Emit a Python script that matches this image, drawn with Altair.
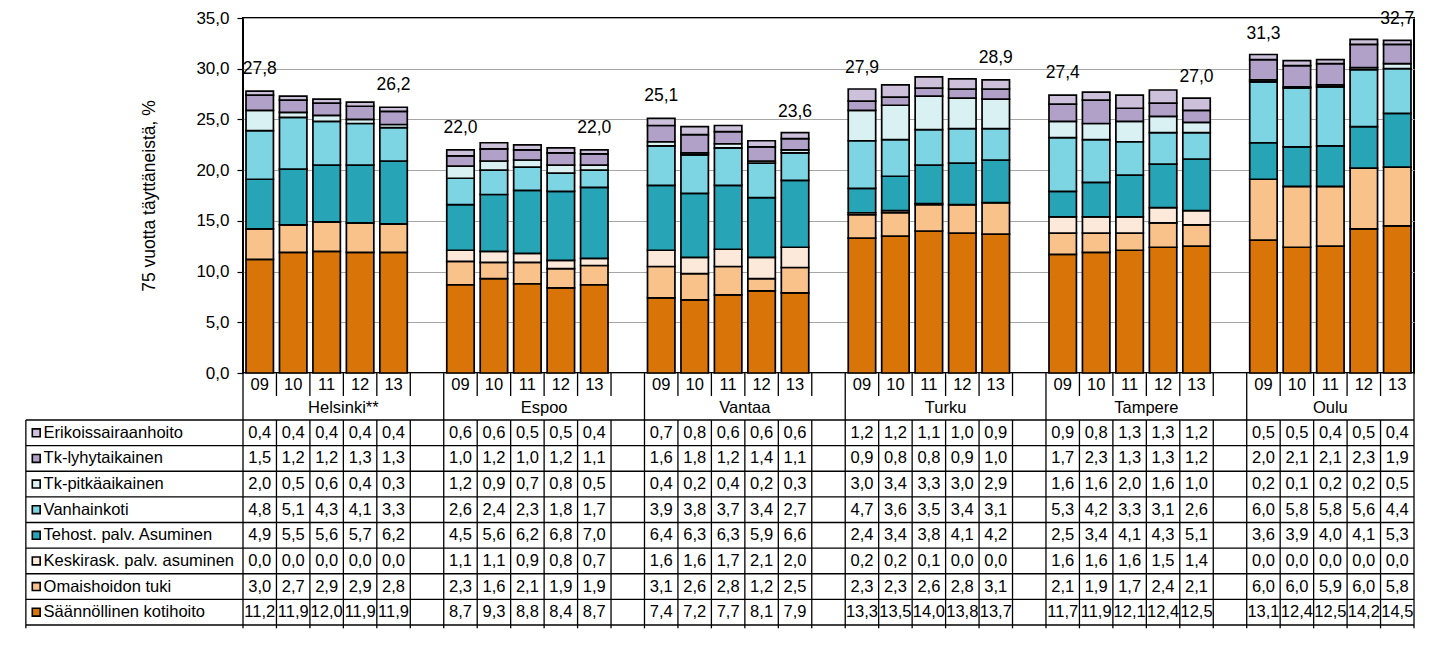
import altair as alt
import pandas as pd

# ---------------- data ----------------
cities = ["Helsinki**", "Espoo", "Vantaa", "Turku", "Tampere", "Oulu"]
years = ["09", "10", "11", "12", "13"]
categories = [
    "Erikoissairaanhoito",
    "Tk-lyhytaikainen",
    "Tk-pitkäaikainen",
    "Vanhainkoti",
    "Tehost. palv. Asuminen",
    "Keskirask. palv. asuminen",
    "Omaishoidon tuki",
    "Säännöllinen kotihoito",
]
colors = ["#CCC0DA", "#B1A0C7", "#DAF1F3", "#7DD5E3", "#27A5B6", "#FDE9D9", "#F9C28B", "#D97409"]

# values: city-major, 5 years per city
erikoissairaanhoito = [0.4, 0.4, 0.4, 0.4, 0.4, 0.6, 0.6, 0.5, 0.5, 0.4, 0.7, 0.8, 0.6, 0.6, 0.6,
                       1.2, 1.2, 1.1, 1.0, 0.9, 0.9, 0.8, 1.3, 1.3, 1.2, 0.5, 0.5, 0.4, 0.5, 0.4]
tk_lyhytaikainen = [1.5, 1.2, 1.2, 1.3, 1.3, 1.0, 1.2, 1.0, 1.2, 1.1, 1.6, 1.8, 1.2, 1.4, 1.1,
                    0.9, 0.8, 0.8, 0.9, 1.0, 1.7, 2.3, 1.3, 1.3, 1.2, 2.0, 2.1, 2.1, 2.3, 1.9]
tk_pitkaaikainen = [2.0, 0.5, 0.6, 0.4, 0.3, 1.2, 0.9, 0.7, 0.8, 0.5, 0.4, 0.2, 0.4, 0.2, 0.3,
                    3.0, 3.4, 3.3, 3.0, 2.9, 1.6, 1.6, 2.0, 1.6, 1.0, 0.2, 0.1, 0.2, 0.2, 0.5]
vanhainkoti = [4.8, 5.1, 4.3, 4.1, 3.3, 2.6, 2.4, 2.3, 1.8, 1.7, 3.9, 3.8, 3.7, 3.4, 2.7,
               4.7, 3.6, 3.5, 3.4, 3.1, 5.3, 4.2, 3.3, 3.1, 2.6, 6.0, 5.8, 5.8, 5.6, 4.4]
tehost_asuminen = [4.9, 5.5, 5.6, 5.7, 6.2, 4.5, 5.6, 6.2, 6.8, 7.0, 6.4, 6.3, 6.3, 5.9, 6.6,
                   2.4, 3.4, 3.8, 4.1, 4.2, 2.5, 3.4, 4.1, 4.3, 5.1, 3.6, 3.9, 4.0, 4.1, 5.3]
keskirask_asuminen = [0.0, 0.0, 0.0, 0.0, 0.0, 1.1, 1.1, 0.9, 0.8, 0.7, 1.6, 1.6, 1.7, 2.1, 2.0,
                      0.2, 0.2, 0.1, 0.0, 0.0, 1.6, 1.6, 1.6, 1.5, 1.4, 0.0, 0.0, 0.0, 0.0, 0.0]
omaishoidon_tuki = [3.0, 2.7, 2.9, 2.9, 2.8, 2.3, 1.6, 2.1, 1.9, 1.9, 3.1, 2.6, 2.8, 1.2, 2.5,
                    2.3, 2.3, 2.6, 2.8, 3.1, 2.1, 1.9, 1.7, 2.4, 2.1, 6.0, 6.0, 5.9, 6.0, 5.8]
kotihoito = [11.2, 11.9, 12.0, 11.9, 11.9, 8.7, 9.3, 8.8, 8.4, 8.7, 7.4, 7.2, 7.7, 8.1, 7.9,
             13.3, 13.5, 14.0, 13.8, 13.7, 11.7, 11.9, 12.1, 12.4, 12.5, 13.1, 12.4, 12.5, 14.2, 14.5]

totals_first = [27.8, 22.0, 25.1, 27.9, 27.4, 31.3]   # 09 labels
totals_last = [26.2, 22.0, 23.6, 28.9, 27.0, 32.7]    # 13 labels

series = [erikoissairaanhoito, tk_lyhytaikainen, tk_pitkaaikainen, vanhainkoti,
          tehost_asuminen, keskirask_asuminen, omaishoidon_tuki, kotihoito]

# ---------------- layout constants ----------------
N_SLOTS = 35
GROUP = 6
GAP = 0.09
LABEL_COL = -6.49
SQUARE_X = -6.18
LABEL_X = -5.96
FONT = "Liberation Sans"


def fmt(v):
    return f"{v:.1f}".replace(".", ",")


def slot_of(ci, yi):
    return ci * GROUP + yi


# ---------------- frames ----------------
bar_rows, table_rows = [], []
for ci, city in enumerate(cities):
    for yi, yr in enumerate(years):
        i = ci * len(years) + yi
        s = slot_of(ci, yi)
        base = 0.0
        for k in reversed(range(len(categories))):
            v = series[k][i]
            bar_rows.append(dict(cat=categories[k], xl=s + GAP, xr=s + 1 - GAP,
                                 y0=base, y1=base + v, ordr=len(categories) - k))
            base += v
        for k in range(len(categories)):
            table_rows.append(dict(x=s + 0.5, row=k + 0.5, txt=fmt(series[k][i])))
bars_df = pd.DataFrame(bar_rows)
table_df = pd.DataFrame(table_rows)

tot_rows = []
for ci in range(len(cities)):
    tot_rows.append(dict(x=slot_of(ci, 0) + 0.5, y=totals_first[ci], txt=fmt(totals_first[ci])))
    tot_rows.append(dict(x=slot_of(ci, len(years) - 1) + 0.5, y=totals_last[ci], txt=fmt(totals_last[ci])))
tot_df = pd.DataFrame(tot_rows)

year_df = pd.DataFrame([dict(x=slot_of(ci, yi) + 0.5, y=0.5, txt=yr)
                        for ci in range(len(cities)) for yi, yr in enumerate(years)])
city_rows = []
for ci, city in enumerate(cities):
    start = ci * GROUP
    end = min(start + GROUP, N_SLOTS)
    city_rows.append(dict(x=(start + end) / 2, y=1.5, txt=city))
city_df = pd.DataFrame(city_rows)

group_edges = [ci * GROUP for ci in range(len(cities))] + [N_SLOTS]
sep_df = pd.DataFrame([dict(x=b, y0=0, y1=2 if b in group_edges else 0.98) for b in range(N_SLOTS + 1)])

hline_df = pd.DataFrame([dict(x0=LABEL_COL, x1=N_SLOTS, y=r) for r in range(len(categories) + 1)])
vline_df = pd.DataFrame([dict(x=b, y0=0, y1=len(categories) + 0.13)
                         for b in [LABEL_COL] + list(range(N_SLOTS + 1))])
legend_df = pd.DataFrame([dict(x=SQUARE_X, xt=LABEL_X, row=k + 0.5, cat=c) for k, c in enumerate(categories)])

# ---------------- scales ----------------
xscale = alt.Scale(domain=[0, N_SLOTS], nice=False, zero=False)
color = alt.Color("cat:N", scale=alt.Scale(domain=categories, range=colors), legend=None)

# ---------------- bar chart ----------------
bars = alt.Chart(bars_df).mark_bar(stroke="black", strokeWidth=1.7).encode(
    x=alt.X("xl:Q", scale=xscale, axis=None),
    x2="xr:Q",
    y=alt.Y("y0:Q", scale=alt.Scale(domain=[0, 35], nice=False, zero=True),
            axis=alt.Axis(values=[0, 5, 10, 15, 20, 25, 30, 35],
                          labelExpr="replace(format(datum.value, '.1f'), '.', ',')",
                          title="75 vuotta täyttäneistä, %",
                          titleFontSize=17.5, titleFontWeight="normal", titleFont=FONT,
                          titlePadding=37, titleColor="black",
                          labelFontSize=17, labelFont=FONT, labelColor="black",
                          labelPadding=8, tickSize=6, tickColor="black", tickWidth=1.2,
                          domain=False, grid=True, gridColor="#A6A6A6", gridWidth=1.2)),
    y2="y1:Q",
    color=color,
    order=alt.Order("ordr:Q"),
)
totals = alt.Chart(tot_df).mark_text(font=FONT, fontSize=17.5, dy=-22, baseline="middle",
                                     align="center", color="black").encode(
    x=alt.X("x:Q", scale=xscale, axis=None),
    y=alt.Y("y:Q"),
    text="txt:N",
)
bar_chart = alt.layer(bars, totals).properties(
    width=1171, height=355,
    view=alt.ViewBackground(stroke="black", strokeWidth=2),
)

# ---------------- year / city rows ----------------
rowscale2 = alt.Scale(domain=[0, 2], reverse=True, nice=False, zero=False)
seps = alt.Chart(sep_df).mark_rule(color="black", strokeWidth=1.3).encode(
    x=alt.X("x:Q", scale=xscale, axis=None),
    y=alt.Y("y0:Q", scale=rowscale2, axis=None),
    y2="y1:Q",
)
year_txt = alt.Chart(year_df).mark_text(font=FONT, fontSize=16.5, color="black").encode(
    x=alt.X("x:Q", scale=xscale, axis=None),
    y=alt.Y("y:Q", scale=rowscale2, axis=None),
    text="txt:N",
)
city_txt = alt.Chart(city_df).mark_text(font=FONT, fontSize=16.5, color="black").encode(
    x=alt.X("x:Q", scale=xscale, axis=None),
    y=alt.Y("y:Q", scale=rowscale2, axis=None),
    text="txt:N",
)
year_chart = alt.layer(seps, year_txt, city_txt).properties(width=1171, height=47)

# ---------------- data table ----------------
rowscale = alt.Scale(domain=[0, len(categories)], reverse=True, nice=False, zero=False)
hlines = alt.Chart(hline_df).mark_rule(color="black", strokeWidth=1.3).encode(
    x=alt.X("x0:Q", scale=xscale, axis=None),
    x2="x1:Q",
    y=alt.Y("y:Q", scale=rowscale, axis=None),
)
vlines = alt.Chart(vline_df).mark_rule(color="black", strokeWidth=1.3).encode(
    x=alt.X("x:Q", scale=xscale, axis=None),
    y=alt.Y("y0:Q", scale=rowscale, axis=None),
    y2="y1:Q",
)
cells = alt.Chart(table_df).mark_text(font=FONT, fontSize=16.5, color="black").encode(
    x=alt.X("x:Q", scale=xscale, axis=None),
    y=alt.Y("row:Q", scale=rowscale, axis=None),
    text="txt:N",
)
squares = alt.Chart(legend_df).mark_square(size=62, stroke="black", strokeWidth=1.6, opacity=1).encode(
    x=alt.X("x:Q", scale=xscale, axis=None),
    y=alt.Y("row:Q", scale=rowscale, axis=None),
    color=color,
)
row_labels = alt.Chart(legend_df).mark_text(font=FONT, fontSize=16.5, align="left", color="black").encode(
    x=alt.X("xt:Q", scale=xscale, axis=None),
    y=alt.Y("row:Q", scale=rowscale, axis=None),
    text="cat:N",
)
table_chart = alt.layer(hlines, vlines, cells, squares, row_labels).properties(width=1171, height=205)

chart = alt.vconcat(bar_chart, year_chart, table_chart, spacing=0, bounds="flush").properties(
    padding={"left": 17, "top": 0, "right": 5, "bottom": 2},
).configure(font=FONT).configure_view(strokeWidth=0)

chart.save("out.html", embed_options={"renderer": "svg", "actions": False})
